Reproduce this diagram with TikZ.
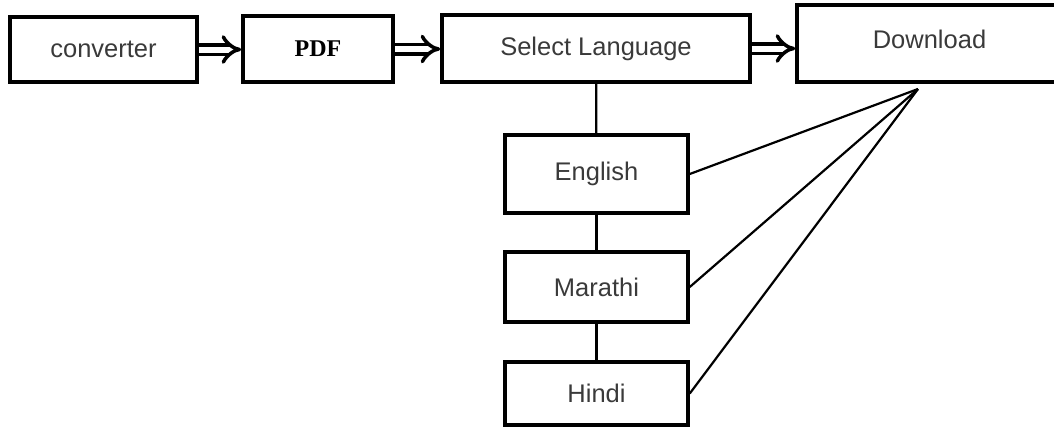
\documentclass[tikz,border=0pt]{standalone}
\usepackage{fontspec}
\setmainfont{Liberation Sans}
\newfontfamily\pdffont{Liberation Serif}
\usetikzlibrary{arrows.meta}
\definecolor{txtgray}{HTML}{3A3A3A}
\begin{document}
\begin{tikzpicture}[x=1pt, y=-1pt,
  box/.style={draw, line width=3.5pt, inner sep=0pt, text=txtgray,
    font=\fontsize{25.5}{30}\selectfont},
  fatarrow/.style={double, double distance=6pt, line width=3.5pt, -{Implies}},
  link/.style={line width=2.2pt}]
\useasboundingbox (0,0) rectangle (1054,431);
% top row
\node[box, minimum width=187pt, minimum height=65pt] (conv) at (103.5,49.5) {converter};
\node[box, minimum width=150pt, minimum height=66pt, text=black,
  font=\pdffont\bfseries\fontsize{24}{28}\selectfont] (pdf) at (318,49) {PDF};
\node[box, minimum width=308pt, minimum height=67pt] (sel) at (596,48.5) {Select Language};
\node[box, minimum width=265pt, minimum height=77pt, text depth=9pt] (dl) at (929.5,43.5) {Download};
% languages
\node[box, minimum width=183pt, minimum height=78pt] (eng) at (596.5,174) {English};
\node[box, minimum width=183pt, minimum height=70pt] (mar) at (596.5,287) {Marathi};
\node[box, minimum width=183pt, minimum height=63pt] (hin) at (596.5,393.5) {Hindi};
\coordinate (hub) at (918,89);
% arrows
\draw[fatarrow] (conv.east) -- (conv.east -| pdf.west);
\draw[fatarrow] (pdf.east) -- (pdf.east -| sel.west);
\draw[fatarrow] (sel.east) -- (sel.east -| dl.west);
% links
\draw[link] (sel) -- (eng);
\draw[link] (eng) -- (mar);
\draw[link] (mar) -- (hin);
\draw[link] (eng.east) -- (hub);
\draw[link] (mar.east) -- (hub);
\draw[link] (hin.east) -- (hub);
\end{tikzpicture}
\end{document}
